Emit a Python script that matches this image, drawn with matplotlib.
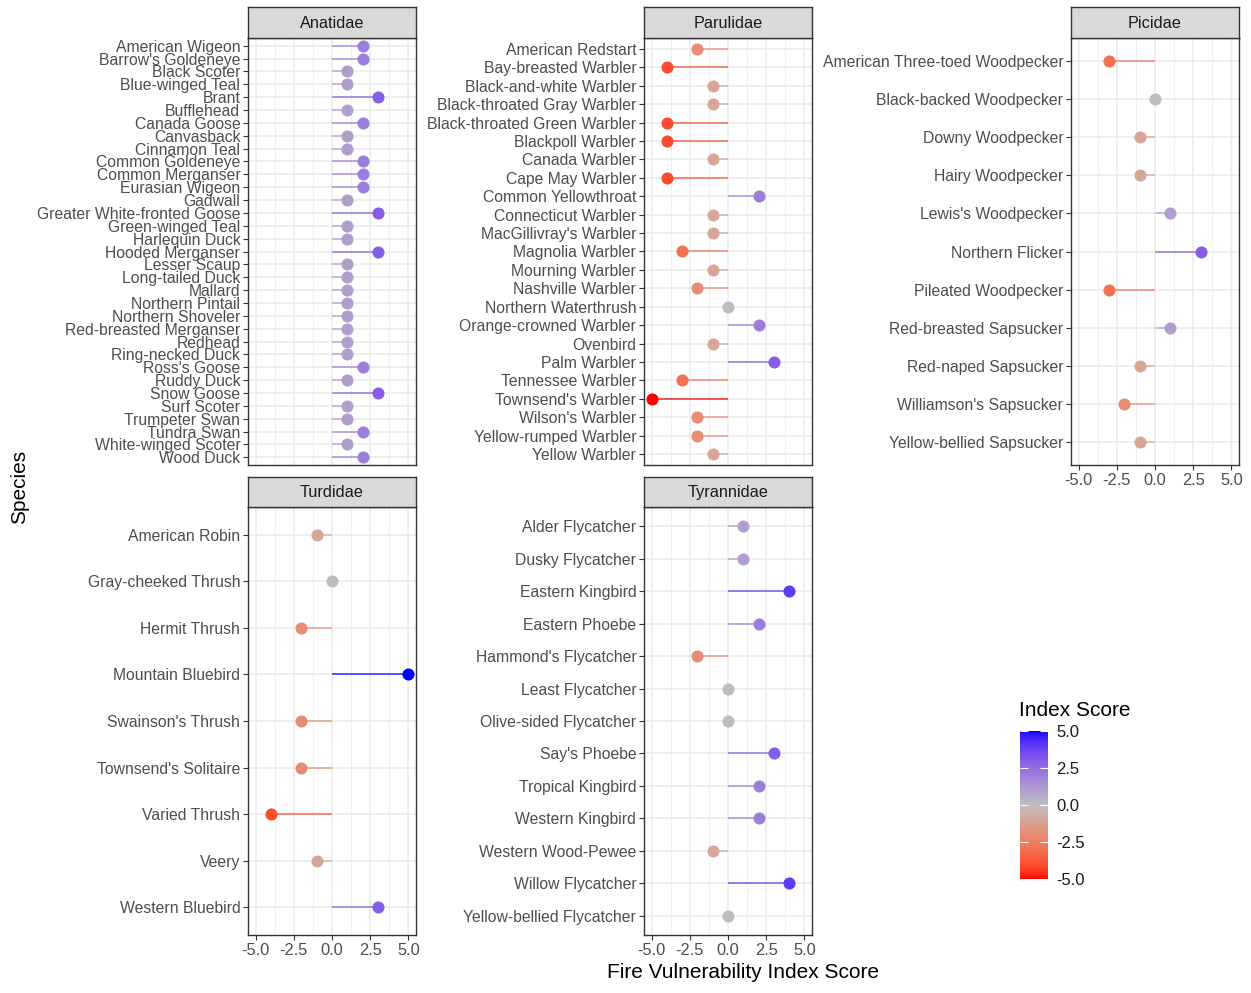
import numpy as np
import matplotlib
matplotlib.use("Agg")
import matplotlib.pyplot as plt
from matplotlib.colors import ListedColormap, Normalize
from matplotlib.cm import ScalarMappable

plt.rcParams['font.family'] = ['Liberation Sans', 'DejaVu Sans']

ANATIDAE = ["American Wigeon", "Barrow's Goldeneye", "Black Scoter", "Blue-winged Teal", "Brant",
            "Bufflehead", "Canada Goose", "Canvasback", "Cinnamon Teal", "Common Goldeneye",
            "Common Merganser", "Eurasian Wigeon", "Gadwall", "Greater White-fronted Goose",
            "Green-winged Teal", "Harlequin Duck", "Hooded Merganser", "Lesser Scaup",
            "Long-tailed Duck", "Mallard", "Northern Pintail", "Northern Shoveler",
            "Red-breasted Merganser", "Redhead", "Ring-necked Duck", "Ross's Goose", "Ruddy Duck",
            "Snow Goose", "Surf Scoter", "Trumpeter Swan", "Tundra Swan", "White-winged Scoter",
            "Wood Duck"]
ANATIDAE_SCORE = [2, 2, 1, 1, 3, 1, 2, 1, 1, 2, 2, 2, 1, 3, 1, 1, 3, 1, 1, 1, 1, 1, 1, 1, 1,
                  2, 1, 3, 1, 1, 2, 1, 2]

PARULIDAE = ["American Redstart", "Bay-breasted Warbler", "Black-and-white Warbler",
             "Black-throated Gray Warbler", "Black-throated Green Warbler", "Blackpoll Warbler",
             "Canada Warbler", "Cape May Warbler", "Common Yellowthroat", "Connecticut Warbler",
             "MacGillivray's Warbler", "Magnolia Warbler", "Mourning Warbler", "Nashville Warbler",
             "Northern Waterthrush", "Orange-crowned Warbler", "Ovenbird", "Palm Warbler",
             "Tennessee Warbler", "Townsend's Warbler", "Wilson's Warbler", "Yellow-rumped Warbler",
             "Yellow Warbler"]
PARULIDAE_SCORE = [-2, -4, -1, -1, -4, -4, -1, -4, 2, -1, -1, -3, -1, -2, 0, 2, -1, 3, -3, -5,
                   -2, -2, -1]

PICIDAE = ["American Three-toed Woodpecker", "Black-backed Woodpecker", "Downy Woodpecker",
           "Hairy Woodpecker", "Lewis's Woodpecker", "Northern Flicker", "Pileated Woodpecker",
           "Red-breasted Sapsucker", "Red-naped Sapsucker", "Williamson's Sapsucker",
           "Yellow-bellied Sapsucker"]
PICIDAE_SCORE = [-3, 0, -1, -1, 1, 3, -3, 1, -1, -2, -1]

TURDIDAE = ["American Robin", "Gray-cheeked Thrush", "Hermit Thrush", "Mountain Bluebird",
            "Swainson's Thrush", "Townsend's Solitaire", "Varied Thrush", "Veery",
            "Western Bluebird"]
TURDIDAE_SCORE = [-1, 0, -2, 5, -2, -2, -4, -1, 3]

TYRANNIDAE = ["Alder Flycatcher", "Dusky Flycatcher", "Eastern Kingbird", "Eastern Phoebe",
              "Hammond's Flycatcher", "Least Flycatcher", "Olive-sided Flycatcher", "Say's Phoebe",
              "Tropical Kingbird", "Western Kingbird", "Western Wood-Pewee", "Willow Flycatcher",
              "Yellow-bellied Flycatcher"]
TYRANNIDAE_SCORE = [1, 1, 4, 2, -2, 0, 0, 3, 2, 2, -1, 4, 0]

XTICKS = [-5.0, -2.5, 0.0, 2.5, 5.0]


# red - grey - blue gradient interpolated in Lab space (like ggplot's gradient2)
def srgb_to_lab(rgb):
    rgb = np.asarray(rgb, dtype=float)
    lin = np.where(rgb <= 0.04045, rgb / 12.92, ((rgb + 0.055) / 1.055) ** 2.4)
    m = np.array([[0.4124, 0.3576, 0.1805], [0.2126, 0.7152, 0.0722], [0.0193, 0.1192, 0.9505]])
    xyz = m @ lin / np.array([0.95047, 1.0, 1.08883])
    f = np.where(xyz > 0.008856, np.cbrt(xyz), 7.787 * xyz + 16 / 116)
    return np.array([116 * f[1] - 16, 500 * (f[0] - f[1]), 200 * (f[1] - f[2])])


def lab_to_srgb(lab):
    L, a, b = lab
    fy = (L + 16) / 116
    fx = fy + a / 500
    fz = fy - b / 200
    f = np.array([fx, fy, fz])
    xyz = np.where(f ** 3 > 0.008856, f ** 3, (f - 16 / 116) / 7.787) * np.array([0.95047, 1.0, 1.08883])
    m = np.array([[3.2406, -1.5372, -0.4986], [-0.9689, 1.8758, 0.0415], [0.0557, -0.2040, 1.0570]])
    lin = m @ xyz
    rgb = np.where(lin <= 0.0031308, 12.92 * lin, 1.055 * np.clip(lin, 0, None) ** (1 / 2.4) - 0.055)
    return np.clip(rgb, 0, 1)


low = srgb_to_lab([1, 0, 0])
mid = srgb_to_lab([190 / 255, 190 / 255, 190 / 255])
high = srgb_to_lab([0, 0, 1])
cols = []
for t in np.linspace(0, 1, 256):
    if t < 0.5:
        lab = low + (mid - low) * (t / 0.5)
    else:
        lab = mid + (high - mid) * ((t - 0.5) / 0.5)
    cols.append(lab_to_srgb(lab))
cmap = ListedColormap(cols)
norm = Normalize(-5, 5)

fig = plt.figure(figsize=(12.51, 9.93), dpi=100)
W, H = 1251, 993


def fx(px):
    return px / W


def fy(py):
    return 1 - py / H


facets = [
    ("Anatidae", ANATIDAE, ANATIDAE_SCORE, 248, 7, 38, 465, False),
    ("Parulidae", PARULIDAE, PARULIDAE_SCORE, 644, 7, 38, 465, False),
    ("Picidae", PICIDAE, PICIDAE_SCORE, 1071, 7, 38, 465, True),
    ("Turdidae", TURDIDAE, TURDIDAE_SCORE, 248, 477, 507, 935, True),
    ("Tyrannidae", TYRANNIDAE, TYRANNIDAE_SCORE, 644, 477, 507, 935, True),
]
pw = 168

for name, species, scores, left, stop, ptop, pbot, show_x in facets:
    ax = fig.add_axes([fx(left), fy(pbot), pw / W, (pbot - ptop) / H])
    n = len(species)
    y = np.arange(n)
    for yi, s in zip(y, scores):
        c = cmap(norm(s))
        ax.plot([0, s], [yi, yi], color=c, alpha=0.7, lw=1.3, solid_capstyle='butt', zorder=2)
        ax.plot(s, yi, 'o', color=c, ms=8.7, mec='none', zorder=3)
    ax.set_xlim(-5.5, 5.5)
    ax.set_ylim(n - 0.4, -0.6)
    ax.set_yticks(y)
    ax.set_yticklabels(species)
    ax.set_xticks(XTICKS)
    ax.set_xticks([-3.75, -1.25, 1.25, 3.75], minor=True)
    ax.grid(True, which='major', color='#EBEBEB', lw=1.1, zorder=0)
    ax.grid(True, which='minor', axis='x', color='#EBEBEB', lw=0.55, zorder=0)
    ax.set_axisbelow(True)
    ax.tick_params(axis='both', which='major', length=3.5, width=0.8, color='#333333',
                   labelsize=11.3, labelcolor='#4D4D4D', pad=2)
    ax.tick_params(axis='x', which='minor', length=0)
    if show_x:
        ax.set_xticklabels(["-5.0", "-2.5", "0.0", "2.5", "5.0"])
        ax.tick_params(axis='x', labelsize=11.8)
    else:
        ax.tick_params(axis='x', which='major', length=0, labelbottom=False)
    for sp in ax.spines.values():
        sp.set_color('#333333')
        sp.set_linewidth(1.0)

    sax = fig.add_axes([fx(left), fy(ptop), pw / W, (ptop - stop) / H])
    sax.set_facecolor('#D9D9D9')
    sax.set_xticks([])
    sax.set_yticks([])
    for sp in sax.spines.values():
        sp.set_color('#333333')
        sp.set_linewidth(1.0)
    sax.text(0.5, 0.48, name, ha='center', va='center', fontsize=11.7, color='#1A1A1A',
             transform=sax.transAxes)

fig.text(fx(743), fy(973), "Fire Vulnerability Index Score", ha='center', va='center', fontsize=15)
fig.text(fx(20), fy(487), "Species", ha='center', va='center', rotation=90, fontsize=15)

# colour bar legend
cax = fig.add_axes([fx(1020), fy(879), 28 / W, 148 / H])
cb = fig.colorbar(ScalarMappable(norm=norm, cmap=cmap), cax=cax, ticks=XTICKS)
cb.outline.set_visible(False)
cb.ax.set_yticklabels(["-5.0", "-2.5", "0.0", "2.5", "5.0"])
cax.tick_params(axis='y', which='both', direction='in', left=True, right=True, color='white',
                length=5.5, width=0.8, labelsize=12, labelcolor='#1A1A1A', pad=6)
cax.minorticks_off()
fig.text(fx(1019), fy(711), "Index Score", ha='left', va='center', fontsize=15)

fig.savefig("out.png", dpi=100)
